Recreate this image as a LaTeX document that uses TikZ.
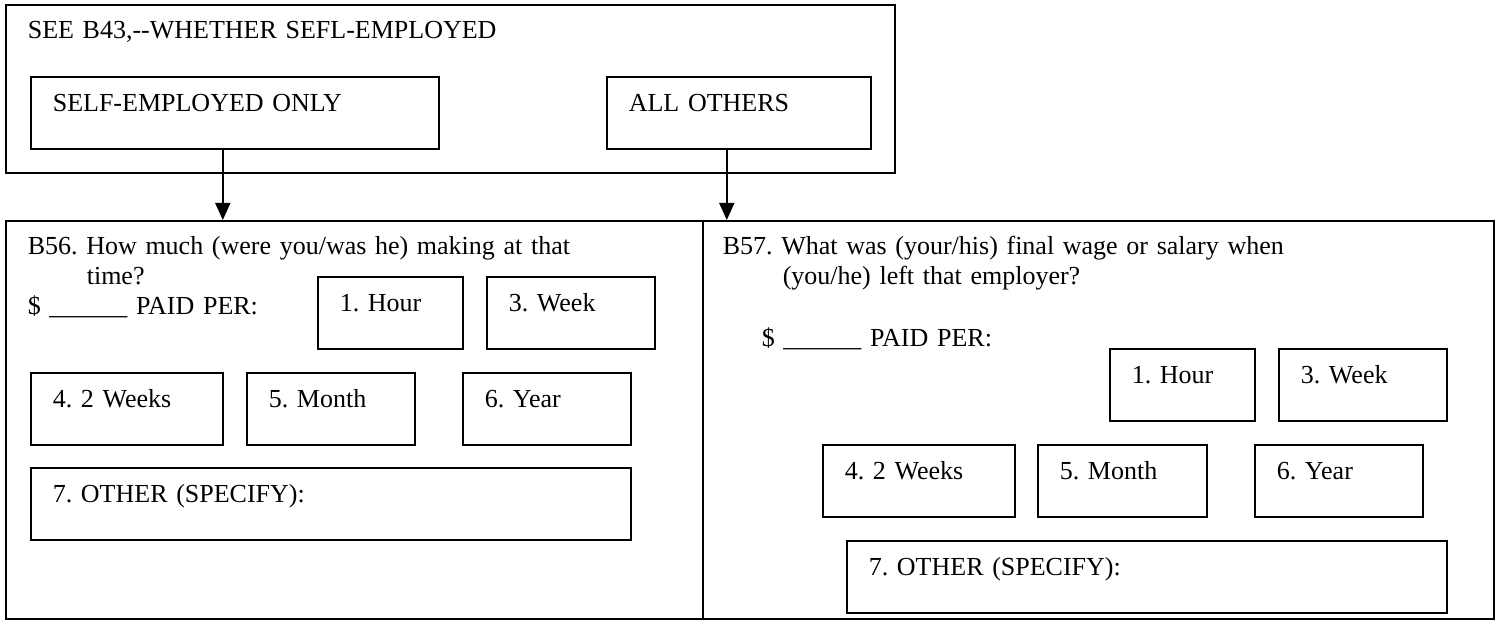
\documentclass[tikz,border=0pt]{standalone}
\usepackage{fontspec}
\setmainfont{Liberation Serif}
\usetikzlibrary{arrows.meta}
\frenchspacing
\tikzset{box/.style = {shape=rectangle,draw,line width=0.8pt,anchor=north west,align=left,inner xsep=11pt,inner ysep=0pt,text height=17.5pt,text depth=18.5pt}}
\tikzset{frame/.style = {box,text height=17pt}}
\tikzset{flow/.style = {-{Triangle[width=7.5pt,length=8.5pt]},line width=0.8pt}}
\begin{document}
\begin{tikzpicture}[x=0.5pt,y=-0.5pt,font=\fontsize{13}{15}\selectfont]
                \useasboundingbox (0,0) rectangle (1501,620);
                \node[frame,text width=422.5pt,text depth=67pt] (top) at (5,4) {SEE B43,-{}-WHETHER SEFL-EMPLOYED};
                \node[box,text width=182pt] (self) at (30,76) {SELF-EMPLOYED ONLY};
                \node[box,text width=110pt] (others) at (606,76) {ALL OTHERS};
                \node[frame,text width=326.5pt,text depth=182pt] (b56) at (5,220) {B56. How much (were you/was he) making at that\\ \hspace*{29.5pt}time?\\ \$ \_\_\_\_\_\_ PAID PER:};
                \node[frame,inner xsep=10pt,text width=375.5pt,text depth=182pt] (b57) at (702,220) {B57. What was (your/his) final wage or salary when\\ \hspace*{30pt}(you/he) left that employer?\\[16pt] \hspace*{19.5pt}\$ \_\_\_\_\_\_ PAID PER:};
                \draw[flow] ([xshift=-6pt]self.south) -- ([xshift=-6pt]self.south |- b56.north);
                \draw[flow] ([xshift=-6pt]others.south) -- ([xshift=-6pt]others.south |- b57.north);
                \node[box,text width=50.5pt] (lhour) at (317,276) {1. Hour};
                \node[box,text width=62pt] (lweek) at (486,276) {3. Week};
                \node[box,text width=74pt] (ltwo) at (30,372) {4. 2 Weeks};
                \node[box,text width=62pt] (lmonth) at (246,372) {5. Month};
                \node[box,text width=62pt] (lyear) at (462,372) {6. Year};
                \node[box,text width=278pt] (lother) at (30,467) {7. OTHER (SPECIFY):};
                \node[box,text width=50.5pt] (rhour) at (1109,348) {1. Hour};
                \node[box,text width=62pt] (rweek) at (1278,348) {3. Week};
                \node[box,text width=74pt] (rtwo) at (822,444) {4. 2 Weeks};
                \node[box,text width=62.5pt] (rmonth) at (1037,444) {5. Month};
                \node[box,text width=62pt] (ryear) at (1254,444) {6. Year};
                \node[box,text width=278pt] (rother) at (846,540) {7. OTHER (SPECIFY):};
            \end{tikzpicture}
\end{document}
